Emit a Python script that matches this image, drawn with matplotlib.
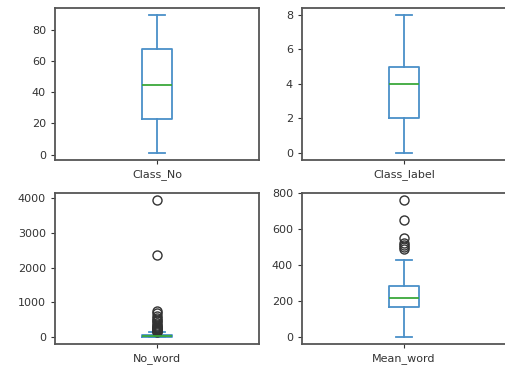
import matplotlib
matplotlib.use("Agg")
import matplotlib.pyplot as plt

# summary stats per column: (whislo, q1, med, q3, whishi, fliers)
columns = ["Class_No", "Class_label", "No_word", "Mean_word"]

whislo = [1, 0, 1, 0]
q1 = [23, 2, 10, 169]
med = [45, 4, 30, 219]
q3 = [68, 5, 62, 281]
whishi = [90, 8, 140, 426]

fliers_no_word = [150, 165, 180, 200, 215, 230, 250, 270, 300, 330, 360, 400,
                  450, 500, 560, 620, 680, 740, 2370, 3950]
fliers_mean_word = [490, 500, 510, 525, 550, 650, 763]
fliers = [[], [], fliers_no_word, fliers_mean_word]

fig = plt.figure(figsize=(5.05, 3.71), dpi=100)
positions = [
    [0.109, 0.569, 0.404, 0.410],
    [0.598, 0.569, 0.404, 0.410],
    [0.109, 0.073, 0.404, 0.407],
    [0.598, 0.073, 0.404, 0.407],
]

for i, name in enumerate(columns):
    ax = fig.add_axes(positions[i])
    stats = [{
        "whislo": whislo[i], "q1": q1[i], "med": med[i], "q3": q3[i],
        "whishi": whishi[i], "fliers": fliers[i], "label": name,
    }]
    ax.bxp(stats, positions=[1], widths=0.15,
           boxprops=dict(color="#4a90c8", linewidth=1.3),
           whiskerprops=dict(color="#4a90c8", linewidth=1.3),
           capprops=dict(color="#4a90c8", linewidth=1.3),
           medianprops=dict(color="#3aa83a", linewidth=1.3),
           flierprops=dict(marker="o", markerfacecolor="none",
                           markeredgecolor="#333333", markersize=6.5))
    ax.set_xlim(0.5, 1.5)
    lo = min([whislo[i]] + fliers[i])
    hi = max([whishi[i]] + fliers[i])
    pad = 0.05 * (hi - lo)
    ax.set_ylim(lo - pad, hi + pad)
    ax.tick_params(labelsize=8, colors="#333333", length=3)
    for s in ax.spines.values():
        s.set_color("#555555")
        s.set_linewidth(1.3)

fig.savefig("out.png", dpi=100)
